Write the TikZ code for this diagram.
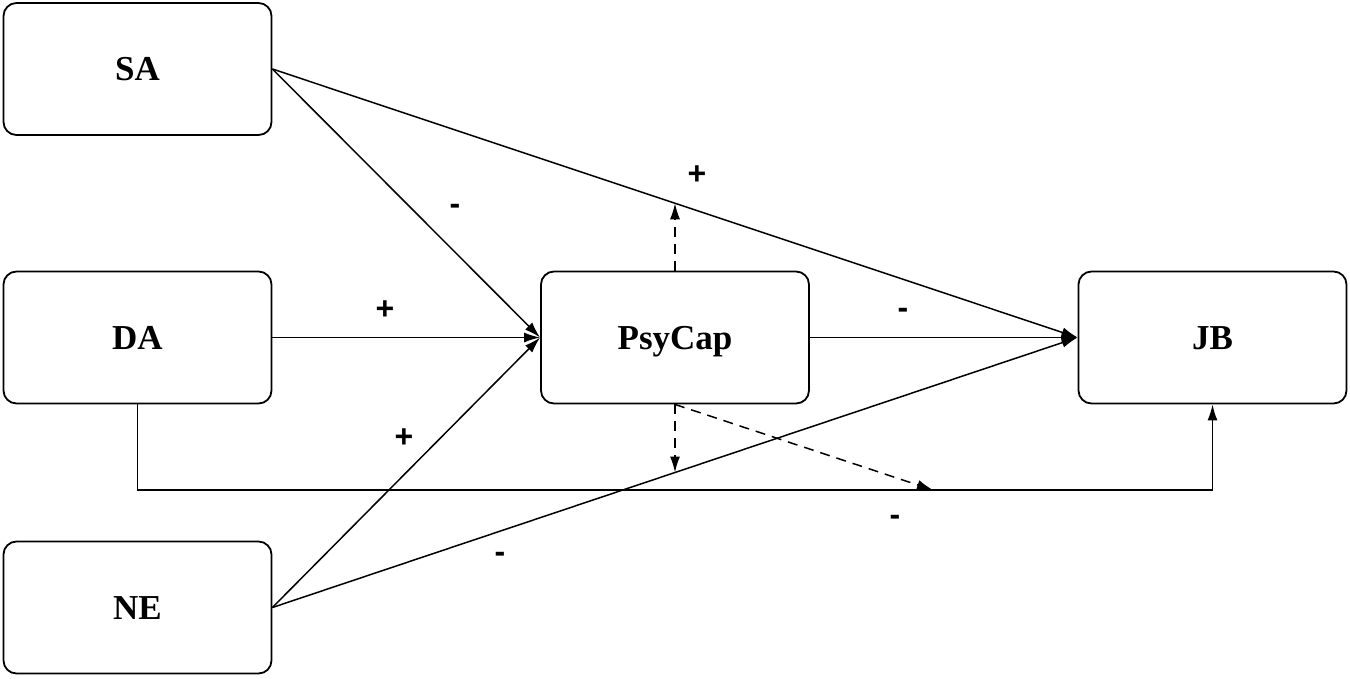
\documentclass[tikz,border=0pt]{standalone}
\usepackage{fontspec}
\setmainfont{Liberation Serif}
\newfontfamily\labfont{Liberation Sans}
\usetikzlibrary{arrows.meta,calc}
\begin{document}
\begin{tikzpicture}[x=1pt,y=-1pt,
  box/.style={draw,line width=1.8pt,rounded corners=13pt,minimum width=268pt,minimum height=132pt,inner sep=0pt,text height=23pt,text depth=0pt,font=\fontsize{35}{40}\selectfont\bfseries},
  conn/.style={line width=1.5pt,-{Latex[length=16pt,width=10pt]}},
  dconn/.style={line width=1.5pt,dash pattern=on 10pt off 7pt,-{Latex[length=16pt,width=10pt]}},
  lab/.style={font=\labfont\fontsize{32}{36}\selectfont\bfseries,inner sep=0pt}]
\useasboundingbox (0,0) rectangle (1350,678);
\fill[white] (0,0) rectangle (1350,678);
\node[box] (SA) at (137.5,69) {SA};
\node[box] (DA) at (137.5,337.5) {DA};
\node[box] (NE) at (137.5,607.5) {NE};
\node[box] (PC) at (675,337.5) {PsyCap};
\node[box] (JB) at (1212.5,337.5) {JB};
\coordinate (m1) at ($(SA.east)!0.5!(JB.west)$);
\coordinate (m2) at ($(NE.east)!0.5!(JB.west)$);
\coordinate (c1) at (DA.south |- 0,490);
\coordinate (c2) at (JB.south |- 0,490);
\coordinate (t) at (933,490);
\draw[conn] (SA.east) -- (PC.west);
\draw[conn] (SA.east) -- (JB.west);
\draw[conn] (DA.east) -- (PC.west);
\draw[conn] (NE.east) -- (PC.west);
\draw[conn] (NE.east) -- (JB.west);
\draw[conn] (PC.east) -- (JB.west);
\draw[conn] (DA.south) -- (c1) -- (c2) -- (JB.south);
\draw[dconn] (PC.north) -- (m1);
\draw[dconn] (PC.south) -- (m2);
\draw[dconn] (PC.south) -- (t);
\node[lab] (l1) at (455,209) {-};
\node[lab] (l2) at (697,175) {+};
\node[lab] (l3) at (385,310) {+};
\node[lab] (l4) at (903,313) {-};
\node[lab] (l5) at (404,438) {+};
\node[lab] (l6) at (895,520) {-};
\node[lab] (l7) at (500,557) {-};
\end{tikzpicture}
\end{document}
